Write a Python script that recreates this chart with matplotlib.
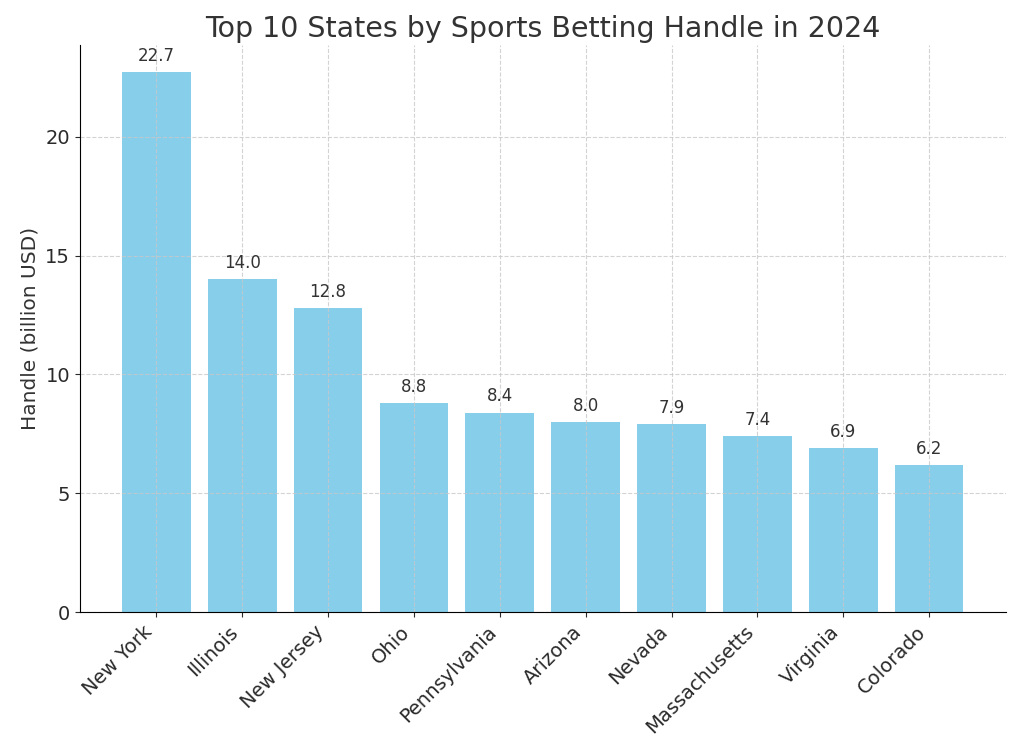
import matplotlib.pyplot as plt

states = ['New York', 'Illinois', 'New Jersey', 'Ohio', 'Pennsylvania',
          'Arizona', 'Nevada', 'Massachusetts', 'Virginia', 'Colorado']
handle = [22.7, 14.0, 12.8, 8.8, 8.4, 8.0, 7.9, 7.4, 6.9, 6.2]

dpi = 100
fig, ax = plt.subplots(figsize=(1024 / dpi, 756 / dpi), dpi=dpi)
plt.rcParams['text.color'] = '#333333'

bars = ax.bar(states, handle, color='skyblue', width=0.8)
for b, v in zip(bars, handle):
    ax.text(b.get_x() + b.get_width() / 2, v + 0.3, f'{v:.1f}',
            ha='center', va='bottom', fontsize=12, color='#333333')

ax.set_title('Top 10 States by Sports Betting Handle in 2024', fontsize=20.5, color='#333333')
ax.set_ylabel('Handle (billion USD)', fontsize=14.5, color='#333333')
ax.tick_params(axis='both', labelsize=14, colors='#2a2a2a')
plt.setp(ax.get_xticklabels(), rotation=45, ha='right')
ax.grid(True, linestyle='--', color='#c8c8c8', alpha=0.8)
ax.spines['top'].set_visible(False)
ax.spines['right'].set_visible(False)

plt.subplots_adjust(left=0.078, right=0.982, top=0.94, bottom=0.19)
fig.savefig('out.png', dpi=dpi)
